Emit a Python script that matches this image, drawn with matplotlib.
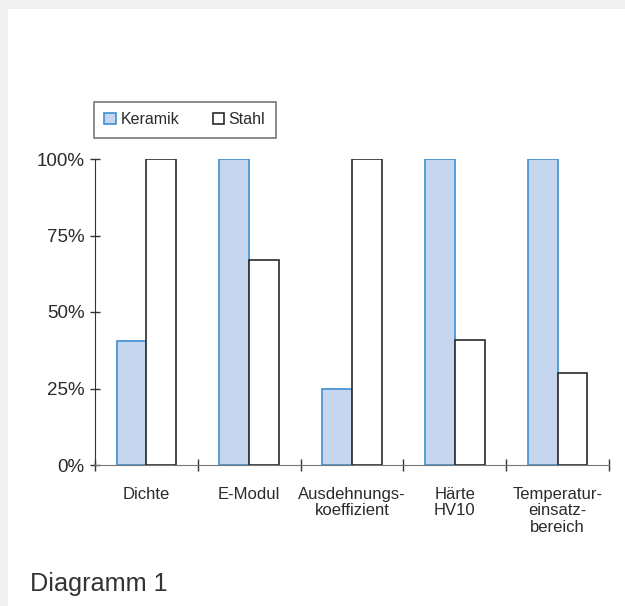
import matplotlib
matplotlib.use('Agg')
import matplotlib.pyplot as plt
import matplotlib.patches as mpatches
import numpy as np

# Werte in Prozent (jeweils bezogen auf den besseren Werkstoff)
kategorien = ['Dichte', 'E-Modul', 'Ausdehnungs-\nkoeffizient', 'Härte\nHV10', 'Temperatur-\neinsatz-\nbereich']
keramik = [40.5, 100, 25, 100, 100]
stahl = [100, 67, 100, 41, 30]
y_ticks = [0, 25, 50, 75, 100]
y_labels = ['0%', '25%', '50%', '75%', '100%']

plt.rcParams['font.family'] = ['Liberation Sans', 'DejaVu Sans']
text_color = '#2b2b2b'

W, H = 625, 606
fig = plt.figure(figsize=(W / 100, H / 100), dpi=100)
fig.patch.set_facecolor('#f0f0f0')
fig.patches.append(mpatches.Rectangle((8 / W, 0), 1, (H - 9) / H, transform=fig.transFigure,
                                      facecolor='white', edgecolor='none', zorder=-10))

ax = fig.add_axes([95 / W, 1 - 465 / H, (609 - 95) / W, (465 - 159) / H])
ax.set_facecolor('none')

x = np.arange(len(kategorien)) + 0.5
bw = 0.29
ax.bar(x - bw / 2, keramik, bw, color='#c6d6ee', edgecolor='#3d8fd2', linewidth=1.2, label='Keramik', zorder=3)
ax.bar(x + bw / 2, stahl, bw, color='white', edgecolor='#2a2a2a', linewidth=1.2, label='Stahl', zorder=3)

ax.set_xlim(0, len(kategorien))
ax.set_ylim(0, 100)
for s in ['top', 'right']:
    ax.spines[s].set_visible(False)
ax.spines['left'].set_color('#333333')
ax.spines['bottom'].set_color('#777777')
ax.spines['bottom'].set_zorder(4)

ax.set_yticks(y_ticks)
ax.set_yticklabels(y_labels, fontsize=13.5, color=text_color)
ax.tick_params(axis='y', direction='inout', length=7, width=1, color='#333333', pad=4)

ax.set_xticks(np.arange(len(kategorien) + 1))
ax.set_xticklabels([])
ax.tick_params(axis='x', which='major', direction='inout', length=8, width=1, color='#333333')
ax.set_xticks(x, minor=True)
ax.set_xticklabels(kategorien, minor=True, fontsize=12, color=text_color, linespacing=1.1)
ax.tick_params(axis='x', which='minor', length=0, pad=16)

leg = ax.legend(ncol=2, loc='lower left', bbox_to_anchor=(-0.002, 1.07), frameon=True, fancybox=False,
                edgecolor='#555555', fontsize=11.5, handlelength=0.7, handleheight=0.7,
                handletextpad=0.3, columnspacing=2.1, borderpad=0.65, borderaxespad=0)
leg.get_frame().set_linewidth(1.2)
for t in leg.get_texts():
    t.set_color(text_color)

fig.text(30 / W, 1 - 591 / H, 'Diagramm 1', fontsize=18.2, color='#333333', va='baseline', ha='left')

fig.savefig('out.png', dpi=100, facecolor=fig.get_facecolor())
